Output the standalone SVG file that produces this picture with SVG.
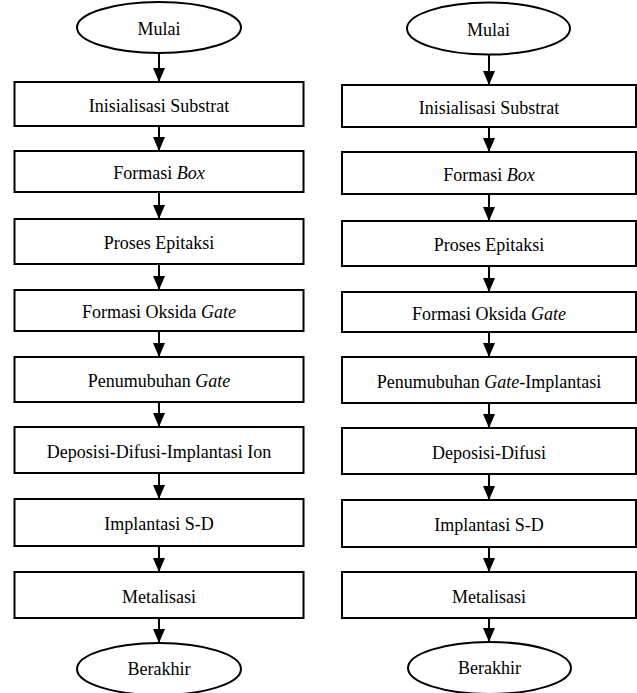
<svg xmlns="http://www.w3.org/2000/svg" width="637" height="693" viewBox="0 0 637 693">
<style>
.n{fill:#fff;stroke:#000;stroke-width:2}
.t{font-family:"Liberation Serif","Times New Roman",serif;font-size:18px;fill:#000;text-anchor:middle}
.i{font-style:italic}
.c{stroke:#000;stroke-width:2;fill:none;marker-end:url(#ah)}
</style>
<defs>
<marker id="ah" markerUnits="userSpaceOnUse" markerWidth="14" markerHeight="12" refX="14" refY="6" orient="auto" viewBox="0 0 14 12">
<path d="M0,0 L14,6 L0,12 z" fill="#000"/>
</marker>
</defs>
<rect width="637" height="693" fill="#fff"/>
<g id="connectors">
<line class="c" x1="159" y1="53" x2="159" y2="82"/>
<line class="c" x1="159" y1="126" x2="159" y2="151"/>
<line class="c" x1="159" y1="192" x2="159" y2="219"/>
<line class="c" x1="159" y1="264" x2="159" y2="290"/>
<line class="c" x1="159" y1="331" x2="159" y2="357"/>
<line class="c" x1="159" y1="402" x2="159" y2="427"/>
<line class="c" x1="159" y1="473" x2="159" y2="499"/>
<line class="c" x1="159" y1="546" x2="159" y2="572"/>
<line class="c" x1="159" y1="618" x2="159" y2="643"/>
<line class="c" x1="489" y1="55" x2="489" y2="85"/>
<line class="c" x1="489" y1="127" x2="489" y2="152"/>
<line class="c" x1="489" y1="194" x2="489" y2="221"/>
<line class="c" x1="489" y1="266" x2="489" y2="292"/>
<line class="c" x1="489" y1="332" x2="489" y2="357"/>
<line class="c" x1="489" y1="403" x2="489" y2="428"/>
<line class="c" x1="489" y1="474" x2="489" y2="500"/>
<line class="c" x1="489" y1="547" x2="489" y2="572"/>
<line class="c" x1="489" y1="618" x2="489" y2="642"/>
</g>
<g id="L-mulai"><ellipse class="n" cx="159" cy="27.5" rx="82" ry="25.5"/><text class="t" x="159" y="35">Mulai</text></g>
<g id="L1"><rect class="n" x="14.5" y="82" width="289" height="44"/><text class="t" x="159" y="111.5">Inisialisasi Substrat</text></g>
<g id="L2"><rect class="n" x="14.5" y="151" width="289" height="41"/><text class="t" x="159" y="179">Formasi <tspan class="i">Box</tspan></text></g>
<g id="L3"><rect class="n" x="14.5" y="219" width="289" height="45"/><text class="t" x="159" y="249">Proses Epitaksi</text></g>
<g id="L4"><rect class="n" x="14.5" y="290" width="289" height="41"/><text class="t" x="159" y="318">Formasi Oksida <tspan class="i">Gate</tspan></text></g>
<g id="L5"><rect class="n" x="14.5" y="357" width="289" height="45"/><text class="t" x="159" y="387">Penumubuhan <tspan class="i">Gate</tspan></text></g>
<g id="L6"><rect class="n" x="14.5" y="427" width="289" height="46"/><text class="t" x="159" y="457.5">Deposisi-Difusi-Implantasi Ion</text></g>
<g id="L7"><rect class="n" x="14.5" y="499" width="289" height="47"/><text class="t" x="159" y="530">Implantasi S-D</text></g>
<g id="L8"><rect class="n" x="14.5" y="572" width="289" height="46"/><text class="t" x="159" y="602.5">Metalisasi</text></g>
<g id="L-berakhir"><ellipse class="n" cx="159" cy="669" rx="82" ry="26"/><text class="t" x="159" y="675">Berakhir</text></g>
<g id="R-mulai"><ellipse class="n" cx="488.5" cy="28.5" rx="81.5" ry="26"/><text class="t" x="488.5" y="36">Mulai</text></g>
<g id="R1"><rect class="n" x="342" y="85" width="294" height="42"/><text class="t" x="489" y="113.5">Inisialisasi Substrat</text></g>
<g id="R2"><rect class="n" x="342" y="152" width="294" height="42"/><text class="t" x="489" y="180.5">Formasi <tspan class="i">Box</tspan></text></g>
<g id="R3"><rect class="n" x="342" y="221" width="294" height="45"/><text class="t" x="489" y="251">Proses Epitaksi</text></g>
<g id="R4"><rect class="n" x="342" y="292" width="294" height="40"/><text class="t" x="489" y="319.5">Formasi Oksida <tspan class="i">Gate</tspan></text></g>
<g id="R5"><rect class="n" x="342" y="357" width="294" height="46"/><text class="t" x="489" y="387.5">Penumubuhan <tspan class="i">Gate</tspan>-Implantasi</text></g>
<g id="R6"><rect class="n" x="342" y="428" width="294" height="46"/><text class="t" x="489" y="458.5">Deposisi-Difusi</text></g>
<g id="R7"><rect class="n" x="342" y="500" width="294" height="47"/><text class="t" x="489" y="531">Implantasi S-D</text></g>
<g id="R8"><rect class="n" x="342" y="572" width="294" height="46"/><text class="t" x="489" y="602.5">Metalisasi</text></g>
<g id="R-berakhir"><ellipse class="n" cx="489.5" cy="668" rx="81.5" ry="26"/><text class="t" x="489.5" y="674">Berakhir</text></g>
</svg>
